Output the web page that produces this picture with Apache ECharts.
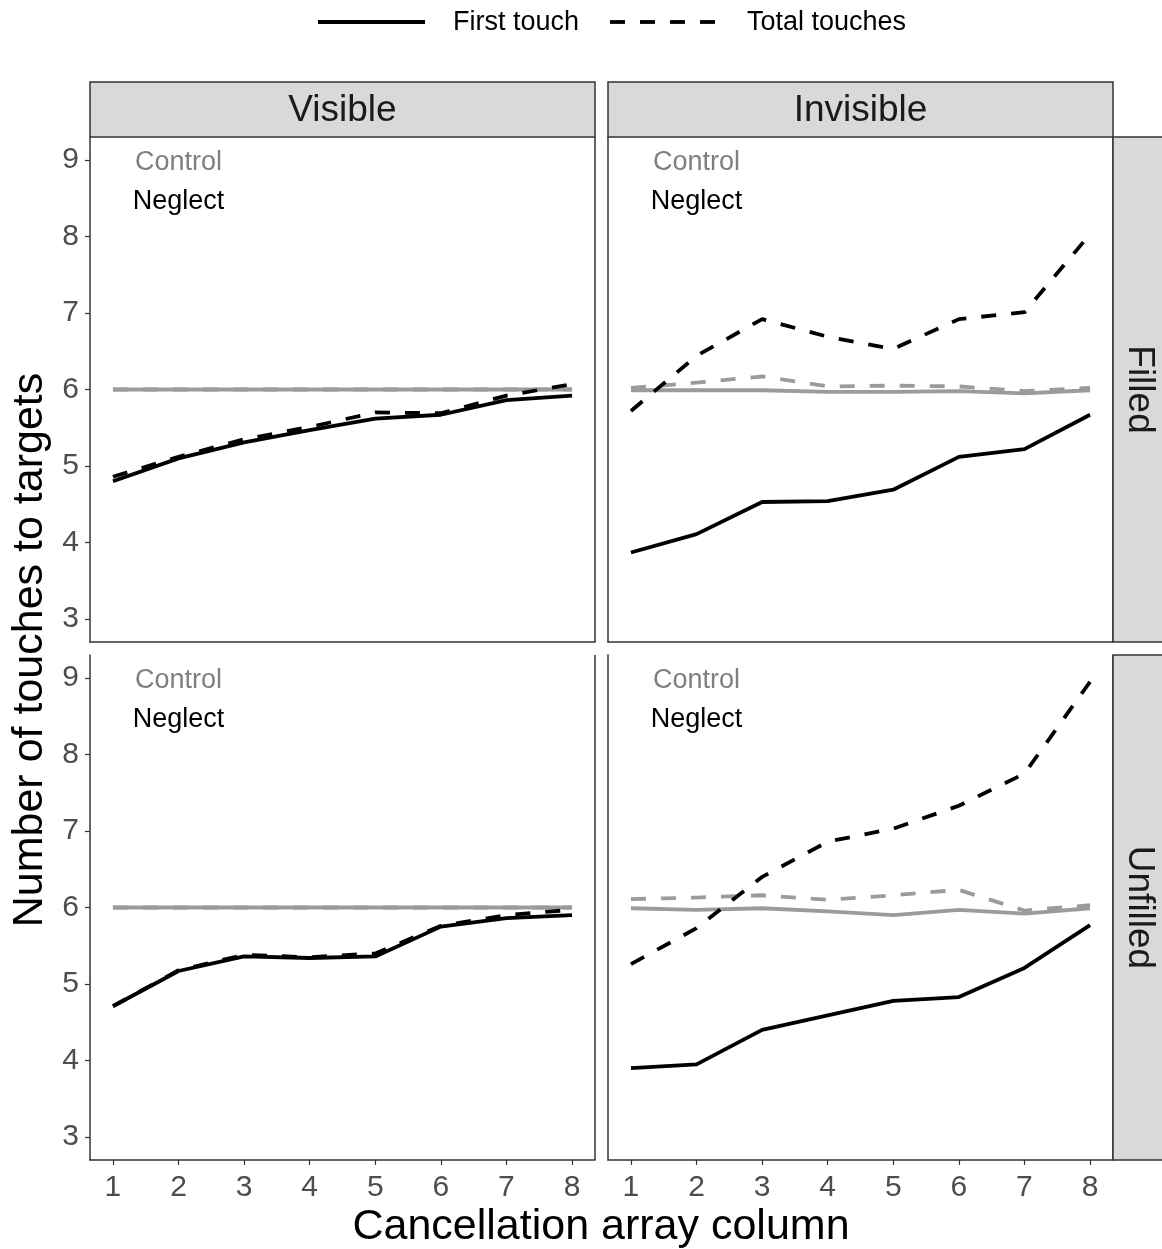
<!DOCTYPE html>
<html><head><meta charset="utf-8">
<script src="https://cdn.jsdelivr.net/npm/echarts@6/dist/echarts.min.js"></script>
<style>html,body{margin:0;padding:0;background:#fff}#c{width:1162px;height:1249px}</style>
</head><body><div id="c"></div>
<script>
const columns = [1,2,3,4,5,6,7,8];
const yTicks = [3,4,5,6,7,8,9];
// Visible / Filled
const visFilledCtrlFirst = [6,6,6,6,6,6,6,6];
const visFilledCtrlTotal = [6,6,6,6,6,6,6,6];
const visFilledNegFirst  = [4.80,5.10,5.31,5.47,5.62,5.67,5.86,5.92];
const visFilledNegTotal  = [4.86,5.12,5.35,5.51,5.70,5.69,5.92,6.07];
// Invisible / Filled
const invFilledCtrlFirst = [5.99,5.99,5.99,5.97,5.97,5.98,5.95,5.99];
const invFilledCtrlTotal = [6.02,6.09,6.17,6.04,6.05,6.04,5.98,6.02];
const invFilledNegFirst  = [3.87,4.11,4.53,4.54,4.69,5.12,5.22,5.67];
const invFilledNegTotal  = [5.72,6.44,6.92,6.69,6.53,6.92,7.01,8.03];
// Visible / Unfilled
const visUnfCtrlFirst = [6,6,6,6,6,6,6,6];
const visUnfCtrlTotal = [6,6,6,6,6,6,6,6];
const visUnfNegFirst  = [4.71,5.17,5.36,5.34,5.36,5.75,5.86,5.90];
const visUnfNegTotal  = [4.71,5.18,5.38,5.35,5.40,5.76,5.90,5.97];
// Invisible / Unfilled
const invUnfCtrlFirst = [5.99,5.97,5.99,5.95,5.90,5.97,5.92,5.99];
const invUnfCtrlTotal = [6.11,6.13,6.16,6.10,6.16,6.23,5.96,6.03];
const invUnfNegFirst  = [3.90,3.95,4.40,4.59,4.78,4.83,5.21,5.77];
const invUnfNegTotal  = [5.26,5.73,6.40,6.86,7.03,7.33,7.75,8.95];

const colLabels = ['Visible','Invisible'];
const rowLabels = ['Filled','Unfilled'];
const groupLabels = ['Control','Neglect'];

const panels = [
  [visFilledCtrlFirst, visFilledCtrlTotal, visFilledNegFirst, visFilledNegTotal],
  [invFilledCtrlFirst, invFilledCtrlTotal, invFilledNegFirst, invFilledNegTotal],
  [visUnfCtrlFirst, visUnfCtrlTotal, visUnfNegFirst, visUnfNegTotal],
  [invUnfCtrlFirst, invUnfCtrlTotal, invUnfNegFirst, invUnfNegTotal]
];

const FONT = '"Liberation Sans", Arial, sans-serif';
const GREY = '#9b9b9b';
const AX = '#333333';
const lefts = [90, 608], tops = [137, 655];
const PW = 505, PH = 505;

const grids = [], xAxes = [], yAxes = [], series = [];
panels.forEach((p, i) => {
  const r = Math.floor(i / 2), c = i % 2;
  grids.push({left: lefts[c], top: tops[r], width: PW, height: PH, containLabel: false});
  xAxes.push({
    type: 'value', gridIndex: i, min: 0.65, max: 8.35,
    axisLine: {show: true, lineStyle: {color: AX, width: 1.5}},
    axisTick: {show: r === 1, length: 5, lineStyle: {color: AX, width: 1.2}, customValues: columns},
    axisLabel: {show: r === 1, fontSize: 30, color: '#4d4d4d', fontFamily: FONT, margin: 13, customValues: columns},
    splitLine: {show: false}
  });
  yAxes.push({
    type: 'value', gridIndex: i, min: 2.7, max: 9.3,
    axisLine: {show: true, lineStyle: {color: AX, width: 1.5}},
    axisTick: {show: c === 0, length: 5, lineStyle: {color: AX, width: 1.2}, customValues: yTicks},
    axisLabel: {show: c === 0, fontSize: 30, color: '#4d4d4d', fontFamily: FONT, margin: 11, customValues: yTicks},
    splitLine: {show: false}
  });
  const mk = (vals, color, dashed, z) => ({
    type: 'line', xAxisIndex: i, yAxisIndex: i, symbol: 'none', silent: true, z: z,
    data: columns.map((x, k) => [x, vals[k]]),
    lineStyle: {color: color, width: 3.8, type: dashed ? [15, 15] : 'solid', cap: 'butt', join: 'round'}
  });
  series.push(mk(p[1], GREY, true, 2));
  series.push(mk(p[0], GREY, false, 3));
  series.push(mk(p[2], '#000', false, 4));
  series.push(mk(p[3], '#000', true, 5));
  series.push({
    type: 'scatter', xAxisIndex: i, yAxisIndex: i, symbolSize: 0, silent: true, z: 6,
    itemStyle: {opacity: 1},
    data: [[2, 9, groupLabels[0], '#7f7f7f'], [2, 8.5, groupLabels[1], '#000000']].map(d => ({
      value: [d[0], d[1]],
      itemStyle: {opacity: 1},
      label: {show: true, position: 'inside', offset: [0, 3], formatter: d[2], color: d[3], opacity: 1, fontSize: 27, fontFamily: FONT}
    }))
  });
});

const graphic = [];
// right borders of panels
panels.forEach((p, i) => {
  const r = Math.floor(i / 2), c = i % 2;
  const x = lefts[c] + PW;
  graphic.push({type: 'line', shape: {x1: x, y1: tops[r], x2: x, y2: tops[r] + PH}, style: {stroke: AX, lineWidth: 1.5}, z: 10});
});
// top strips
colLabels.forEach((t, c) => {
  graphic.push({type: 'rect', shape: {x: lefts[c], y: 82, width: PW, height: 55}, style: {fill: '#d9d9d9', stroke: AX, lineWidth: 1.5}, z: 10});
  graphic.push({type: 'text', x: lefts[c] + PW / 2, y: 111, style: {text: t, fill: '#1a1a1a', font: '37px ' + FONT, align: 'center', verticalAlign: 'middle'}, z: 11});
});
// right strips
rowLabels.forEach((t, r) => {
  graphic.push({type: 'rect', shape: {x: 1113, y: tops[r], width: 60, height: PH}, style: {fill: '#d9d9d9', stroke: AX, lineWidth: 1.5}, z: 10});
  graphic.push({type: 'text', x: 1139, y: tops[r] + PH / 2, rotation: -Math.PI / 2, style: {text: t, fill: '#1a1a1a', font: '37px ' + FONT, align: 'center', verticalAlign: 'middle'}, z: 11});
});
// axis titles
graphic.push({type: 'text', x: 30, y: 650, rotation: Math.PI / 2, style: {text: 'Number of touches to targets', fill: '#000', font: '43px ' + FONT, align: 'center', verticalAlign: 'middle'}});
graphic.push({type: 'text', x: 601, y: 1227, style: {text: 'Cancellation array column', fill: '#000', font: '43px ' + FONT, align: 'center', verticalAlign: 'middle'}});
// legend
graphic.push({type: 'line', shape: {x1: 318, y1: 22, x2: 425, y2: 22}, style: {stroke: '#000', lineWidth: 3.8}});
graphic.push({type: 'text', x: 453, y: 23, style: {text: 'First touch', fill: '#000', font: '27px ' + FONT, align: 'left', verticalAlign: 'middle'}});
graphic.push({type: 'line', shape: {x1: 610, y1: 22, x2: 718, y2: 22}, style: {stroke: '#000', lineWidth: 3.8, lineDash: [15, 15]}});
graphic.push({type: 'text', x: 747, y: 23, style: {text: 'Total touches', fill: '#000', font: '27px ' + FONT, align: 'left', verticalAlign: 'middle'}});

const chart = echarts.init(document.getElementById('c'), null, {renderer: 'canvas'});
chart.setOption({
  backgroundColor: '#fff',
  animation: false,
  grid: grids, xAxis: xAxes, yAxis: yAxes, series: series, graphic: graphic
});
</script></body></html>
